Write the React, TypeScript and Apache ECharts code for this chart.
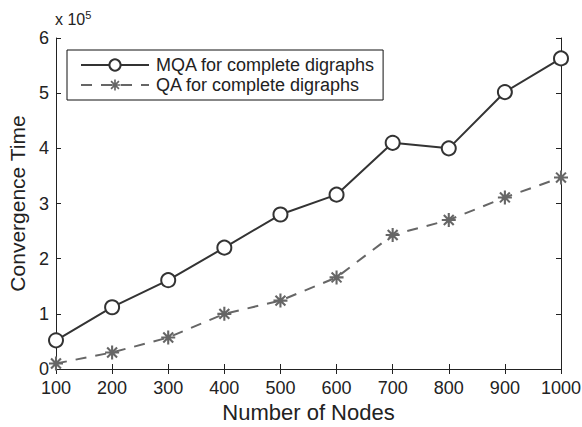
import React, { useEffect, useRef } from "react";
import * as echarts from "echarts";

const nodes = [100, 200, 300, 400, 500, 600, 700, 800, 900, 1000];
const mqaValues = [0.52, 1.12, 1.61, 2.2, 2.8, 3.16, 4.1, 4.0, 5.02, 5.63];
const qaValues = [0.1, 0.3, 0.57, 1.0, 1.24, 1.66, 2.43, 2.7, 3.11, 3.47];
const seriesNames = ["MQA for complete digraphs", "QA for complete digraphs"];

const asterisk =
  "path://M10.2 0 H13.8 V24 H10.2 Z M0 10.2 H24 V13.8 H0 Z " +
  "M2.243 4.788 L4.788 2.243 L21.757 19.212 L19.212 21.757 Z " +
  "M21.757 4.788 L4.788 21.757 L2.243 19.212 L19.212 2.243 Z";

const FONT = "Liberation Sans, Arial, Helvetica, sans-serif";

export default function App() {
  const ref = useRef<HTMLDivElement>(null);
  useEffect(() => {
    if (!ref.current) return;
    const chart = echarts.init(ref.current, null, { renderer: "svg" });
    const mk = (vals: number[]) => nodes.map((n, i) => [n, vals[i]]);
    const tick = { show: true, inside: true, length: 5, lineStyle: { color: "#222", width: 1 } };
    chart.setOption({
      animation: false,
      backgroundColor: "#fff",
      textStyle: { fontFamily: FONT },
      grid: { left: 56, right: 21, top: 38, bottom: 58, containLabel: false, outerBoundsMode: "none" },
      xAxis: [
        {
          type: "value",
          min: 100,
          max: 1000,
          interval: 100,
          name: "Number of Nodes",
          nameLocation: "middle",
          nameGap: 31,
          nameTextStyle: { fontSize: 22, color: "#222", fontFamily: FONT },
          axisLine: { lineStyle: { color: "#222", width: 1 } },
          axisTick: tick,
          axisLabel: { fontSize: 18, lineHeight: 16, color: "#222", margin: 11, fontFamily: FONT, formatter: (v: number) => String(v) },
          splitLine: { show: false },
        },
        {
          type: "value",
          position: "top",
          min: 100,
          max: 1000,
          interval: 100,
          axisLine: { show: true, lineStyle: { color: "#222", width: 1 } },
          axisTick: tick,
          axisLabel: { show: false },
          splitLine: { show: false },
        },
      ],
      yAxis: [
        {
          type: "value",
          min: 0,
          max: 6,
          interval: 1,
          name: "Convergence Time",
          nameLocation: "middle",
          nameGap: 28,
          nameTextStyle: { fontSize: 21, color: "#222", fontFamily: FONT },
          axisLine: { show: true, lineStyle: { color: "#222", width: 1 } },
          axisTick: tick,
          axisLabel: { fontSize: 18, lineHeight: 14, color: "#222", margin: 7, fontFamily: FONT },
          splitLine: { show: false },
        },
        {
          type: "value",
          position: "right",
          min: 0,
          max: 6,
          interval: 1,
          axisLine: { show: true, lineStyle: { color: "#222", width: 1 } },
          axisTick: tick,
          axisLabel: { show: false },
          splitLine: { show: false },
        },
      ],
      legend: {
        left: 67,
        top: 50,
        orient: "vertical",
        backgroundColor: "#fff",
        borderColor: "#111",
        borderWidth: 1,
        borderRadius: 0,
        padding: [6, 8, 6, 13],
        itemGap: 2,
        itemWidth: 68,
        itemHeight: 14,
        textStyle: { fontSize: 18, color: "#222", fontFamily: FONT, padding: [0, 0, 0, 2] },
        data: seriesNames,
      },
      graphic: [
        {
          type: "text",
          left: 55,
          top: 9,
          style: {
            text: "x 10{s|5}",
            fontSize: 16,
            fill: "#222",
            fontFamily: FONT,
            rich: { s: { fontSize: 11, verticalAlign: "top", padding: [0, 0, 9, 0], fill: "#222", fontFamily: FONT } },
          },
        },
      ],
      series: [
        {
          name: seriesNames[0],
          type: "line",
          data: mk(mqaValues),
          symbol: "emptyCircle",
          symbolSize: 14,
          lineStyle: { color: "#333", width: 2 },
          itemStyle: { color: "#333", borderWidth: 2, borderColor: "#333" },
          z: 3,
        },
        {
          name: seriesNames[1],
          type: "line",
          data: mk(qaValues),
          symbol: asterisk,
          symbolSize: 14,
          lineStyle: { color: "#666", width: 2, type: [11, 9] },
          itemStyle: { color: "#666" },
          z: 2,
        },
      ],
    });
    return () => chart.dispose();
  }, []);
  return <div ref={ref} style={{ width: 582, height: 427, position: "absolute", left: 0, top: 0 }} />;
}
